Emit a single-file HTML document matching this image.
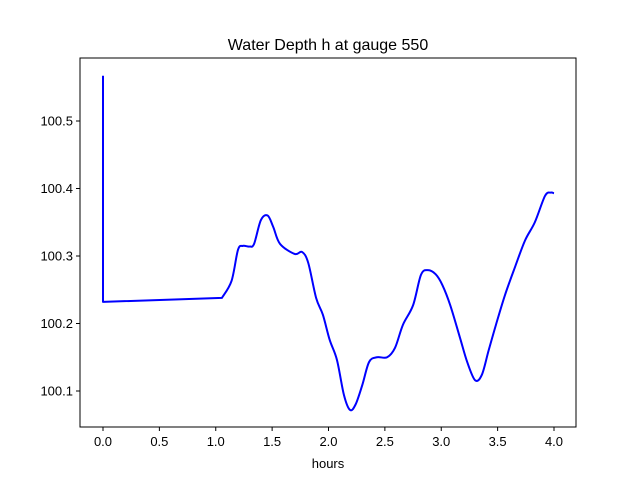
<!DOCTYPE html>
<html><head><meta charset="utf-8"><style>body{margin:0;background:#fff}svg{display:block;font-family:"Liberation Sans","DejaVu Sans",sans-serif}</style></head>
<body>
<svg id="chart" width="640" height="480">
<rect width="640" height="480" fill="#fff"/>
<text x="328" y="50" text-anchor="middle" font-size="16">Water Depth h at gauge 550</text>
<g id="xt"></g>
<g id="yt"></g>
<path id="line" fill="none" stroke="#0000ff" stroke-width="2" stroke-linejoin="round"/>
<rect x="80" y="58" width="496" height="369" fill="none" stroke="#000" stroke-width="1"/>
<text x="328" y="468" text-anchor="middle" font-size="13">hours</text>
</svg>
<script>
const hours=[0,0,1.055,1.14,1.197,1.24,1.30,1.34,1.40,1.46,1.51,1.57,1.70,1.765,1.82,1.89,1.95,2.01,2.075,2.137,2.19,2.24,2.30,2.36,2.43,2.52,2.59,2.66,2.75,2.82,2.88,2.95,3.01,3.08,3.166,3.23,3.30,3.36,3.42,3.485,3.565,3.655,3.743,3.83,3.92,3.97,4.0];
const depth=[100.567,100.232,100.238,100.263,100.309,100.315,100.314,100.318,100.353,100.360,100.343,100.318,100.303,100.306,100.29,100.238,100.213,100.176,100.146,100.094,100.072,100.08,100.109,100.143,100.15,100.15,100.164,100.198,100.227,100.272,100.279,100.273,100.257,100.227,100.179,100.143,100.116,100.124,100.160,100.198,100.242,100.284,100.323,100.350,100.389,100.394,100.393];
const xTicks=[0,0.5,1,1.5,2,2.5,3,3.5,4];
const xTickLabels=["0.0","0.5","1.0","1.5","2.0","2.5","3.0","3.5","4.0"];
const yTicks=[100.1,100.2,100.3,100.4,100.5];
const yTickLabels=["100.1","100.2","100.3","100.4","100.5"];
const X=v=>103+(v-0)*112.75;
const Y=v=>391-(v-100.1)*675;
const NS="http://www.w3.org/2000/svg";
const xt=document.getElementById('xt'),yt=document.getElementById('yt');
xTicks.forEach((t,i)=>{const l=document.createElementNS(NS,'line');
l.setAttribute('x1',X(t));l.setAttribute('x2',X(t));l.setAttribute('y1',427);l.setAttribute('y2',431);l.setAttribute('stroke','#000');


xt.appendChild(l);
const tx=document.createElementNS(NS,'text');tx.setAttribute('x',X(t));tx.setAttribute('y',446);tx.setAttribute('text-anchor','middle');tx.setAttribute('font-size','13');tx.textContent=xTickLabels[i];


xt.appendChild(tx);});
yTicks.forEach((t,i)=>{const l=document.createElementNS(NS,'line');
l.setAttribute('x1',76);l.setAttribute('x2',80);l.setAttribute('y1',Y(t));l.setAttribute('y2',Y(t));l.setAttribute('stroke','#000');


yt.appendChild(l);
const tx=document.createElementNS(NS,'text');tx.setAttribute('x',73);tx.setAttribute('y',Y(t)+4.5);tx.setAttribute('text-anchor','end');tx.setAttribute('font-size','13');tx.textContent=yTickLabels[i];


yt.appendChild(tx);});
const pts=hours.map((h,i)=>[X(h),Y(depth[i])]);
let d='M'+pts[0][0]+','+pts[0][1]+' L'+pts[1][0]+','+pts[1][1]+' L'+pts[2][0]+','+pts[2][1];
for(let i=2;i<pts.length-1;i++){const p0=pts[Math.max(i-1,2)],p1=pts[i],p2=pts[i+1],p3=pts[Math.min(i+2,pts.length-1)];
const c1=[p1[0]+(p2[0]-p0[0])/6,p1[1]+(p2[1]-p0[1])/6],c2=[p2[0]-(p3[0]-p1[0])/6,p2[1]-(p3[1]-p1[1])/6];
d+=' C'+c1+' '+c2+' '+p2;}
document.getElementById('line').setAttribute('d',d);
</script>
</body></html>
